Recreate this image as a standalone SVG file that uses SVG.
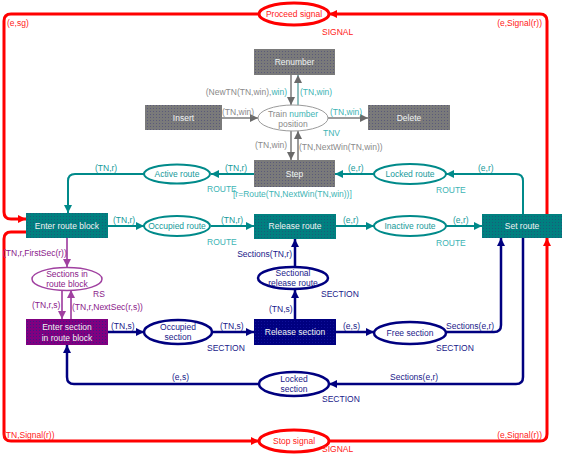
<svg xmlns="http://www.w3.org/2000/svg" width="564" height="454" viewBox="0 0 564 454">
<defs>
<style>
text{font-family:"Liberation Sans",Arial,sans-serif;font-size:8.5px}
.bt{fill:#f0f4f4;text-anchor:middle}
.c{text-anchor:middle}
.e{text-anchor:end}
.red{fill:#ff2020}.teal{fill:#159a9a}.teal2{fill:#40b4b4}.gray{fill:#8a8a8a}.pur{fill:#8a208a}.navy{fill:#1a1a8a}
.lr{fill:none;stroke:#ff0000;stroke-width:3}
.lt{fill:none;stroke:#008a8a;stroke-width:2}
.lg{fill:none;stroke:#7a7a7a;stroke-width:1.5}
.lp{fill:none;stroke:#b060b0;stroke-width:2}
.ln{fill:none;stroke:#000080;stroke-width:2.5}
.er{fill:#fff;stroke:#ff0000;stroke-width:3}
.et{fill:#fff;stroke:#008a8a;stroke-width:2}
.eg{fill:#fff;stroke:#9a9a9a;stroke-width:1}
.ep{fill:#fff;stroke:#a040a0;stroke-width:1.5}
.en{fill:#fff;stroke:#000080;stroke-width:2.5}
</style>
<pattern id="pt" width="3" height="3" patternUnits="userSpaceOnUse"><rect width="3" height="3" fill="#008080"/><rect width="1" height="1" fill="#1a5a7a"/></pattern>
<pattern id="pg" width="3" height="3" patternUnits="userSpaceOnUse"><rect width="3" height="3" fill="#7a7a7a"/><rect width="1" height="1" fill="#5a5a7a"/></pattern>
<pattern id="pp" width="3" height="3" patternUnits="userSpaceOnUse"><rect width="3" height="3" fill="#800080"/><rect width="1" height="1" fill="#3a1a8a"/></pattern>
<pattern id="pn" width="3" height="3" patternUnits="userSpaceOnUse"><rect width="3" height="3" fill="#000080"/><rect width="1" height="1" fill="#10109a"/></pattern>
<marker id="ar" viewBox="0 0 10 10" refX="10" refY="5" markerWidth="9" markerHeight="8" markerUnits="userSpaceOnUse" orient="auto"><path d="M0,0L10,5L0,10z" fill="#ff0000"/></marker>
<marker id="at" viewBox="0 0 10 10" refX="10" refY="5" markerWidth="9" markerHeight="8" markerUnits="userSpaceOnUse" orient="auto"><path d="M0,0L10,5L0,10z" fill="#008a8a"/></marker>
<marker id="ag" viewBox="0 0 10 10" refX="10" refY="5" markerWidth="9" markerHeight="8" markerUnits="userSpaceOnUse" orient="auto"><path d="M0,0L10,5L0,10z" fill="#6a6a6a"/></marker>
<marker id="ap" viewBox="0 0 10 10" refX="10" refY="5" markerWidth="9" markerHeight="8" markerUnits="userSpaceOnUse" orient="auto"><path d="M0,0L10,5L0,10z" fill="#a040a0"/></marker>
<marker id="an" viewBox="0 0 10 10" refX="10" refY="5" markerWidth="9" markerHeight="8" markerUnits="userSpaceOnUse" orient="auto"><path d="M0,0L10,5L0,10z" fill="#000080"/></marker>
</defs>
<rect width="564" height="454" fill="#fff"/>

<g id="connectors">
<path class="lg" d="M291,75L291,105" marker-end="url(#ag)"/>
<path class="lg" d="M298,105L298,75" style="stroke:#6aa8a8" marker-end="url(#ag)"/>
<path class="lg" d="M222,118L258,118" marker-end="url(#ag)"/>
<path class="lg" d="M328,118L368,118" marker-end="url(#ag)"/>
<path class="lg" d="M291,131L291,160" marker-end="url(#ag)"/>
<path class="lg" d="M298,160L298,131" marker-end="url(#ag)"/>

<path class="lt" d="M254,174L211,174" marker-end="url(#at)"/>
<path class="lt" d="M144,174L75,174Q68,174 68,181L68,213" marker-end="url(#at)"/>
<path class="lt" d="M335,174L374,174" transform="rotate(180 354.5 174)" marker-end="url(#at)"/>
<path class="lt" d="M523,214L523,181Q523,174 516,174L446,174" marker-end="url(#at)"/>
<path class="lt" d="M108,226L144,226" marker-end="url(#at)"/>
<path class="lt" d="M211,226L254,226" marker-end="url(#at)"/>
<path class="lt" d="M336,226L374,226" marker-end="url(#at)"/>
<path class="lt" d="M446,226L482,226" marker-end="url(#at)"/>

<path class="lr" d="M547,214L547,21Q547,14 540,14L329,14" marker-end="url(#ar)"/>
<path class="lr" d="M259,14L11,14Q4,14 4,21L4,212Q4,219 11,219L26,219" marker-end="url(#ar)"/>
<path class="lr" d="M26,232L11,232Q4,232 4,239L4,434Q4,441 11,441L259,441" marker-end="url(#ar)"/>
<path class="lr" d="M329,441L540,441Q547,441 547,434L547,238" marker-end="url(#ar)"/>

<path class="lp" d="M67,238L67,267" marker-end="url(#ap)"/>
<path class="lp" d="M62,290L62,319" marker-end="url(#ap)"/>
<path class="lp" d="M71,319L71,290" marker-end="url(#ap)"/>

<path class="ln" d="M108,332L144,332" marker-end="url(#an)"/>
<path class="ln" d="M212,332L254,332" marker-end="url(#an)"/>
<path class="ln" d="M295,319L295,290" marker-end="url(#an)"/>
<path class="ln" d="M295,267L295,239" marker-end="url(#an)"/>
<path class="ln" d="M336,332L374,332" marker-end="url(#an)"/>
<path class="ln" d="M446,332L494,332Q501,332 501,325L501,238" marker-end="url(#an)"/>
<path class="ln" d="M523,238L523,377Q523,384 516,384L329,384" marker-end="url(#an)"/>
<path class="ln" d="M259,384L74,384Q67,384 67,377L67,345" marker-end="url(#an)"/>
</g>

<g id="labels">
<text class="red" x="7" y="26">(e,sg)</text>
<text class="red e" x="542" y="26">(e,Signal(r))</text>
<text class="red" x="3" y="438">(TN,Signal(r))</text>
<text class="red e" x="542" y="438">(e,Signal(r))</text>

<text class="gray e" x="287" y="95">(NewTN(TN,win),<tspan class="teal2">win)</tspan></text>
<text class="teal2" x="300" y="95">(TN,win)</text>
<text class="gray" x="222" y="115">(TN,win)</text>
<text class="teal2" x="330" y="115">(TN,win)</text>
<text class="gray" x="255" y="148">(TN,win)</text>
<text class="gray" x="299" y="150">(TN,NextWin(TN,win))</text>
<text class="teal2" x="323" y="136">TNV</text>

<text class="teal" x="225" y="171">(TN,r)</text>
<text class="teal" x="95" y="171">(TN,r)</text>
<text class="teal" x="348" y="171">(e,r)</text>
<text class="teal" x="478" y="171">(e,r)</text>
<text class="teal2" x="207" y="192">ROUTE</text>
<text class="teal2" x="233" y="197">[r=Route(TN,NextWin(TN,win))]</text>
<text class="teal2" x="436" y="193">ROUTE</text>
<text class="teal" x="113" y="223">(TN,r)</text>
<text class="teal" x="221" y="223">(TN,r)</text>
<text class="teal" x="343" y="223">(e,r)</text>
<text class="teal" x="453" y="223">(e,r)</text>
<text class="teal2" x="207" y="245">ROUTE</text>
<text class="teal2" x="436" y="246">ROUTE</text>

<text class="pur" x="3" y="256">(TN,r,FirstSec(r))</text>
<text class="pur" x="93" y="297">RS</text>
<text class="pur" x="32" y="308">(TN,r,s)</text>
<text class="pur" x="72" y="310">(TN,r,NextSec(r,s))</text>

<text class="navy e" x="292" y="257">Sections(TN,r)</text>
<text class="navy" x="321" y="297">SECTION</text>
<text class="navy" x="269" y="312">(TN,s)</text>
<text class="navy" x="111" y="329">(TN,s)</text>
<text class="navy" x="220" y="329">(TN,s)</text>
<text class="navy" x="343" y="329">(e,s)</text>
<text class="navy" x="446" y="329">Sections(e,r)</text>
<text class="navy" x="207" y="351">SECTION</text>
<text class="navy" x="436" y="351">SECTION</text>
<text class="navy" x="172" y="380">(e,s)</text>
<text class="navy" x="390" y="380">Sections(e,r)</text>
<text class="navy" x="322" y="402">SECTION</text>
</g>

<g id="proceed-signal"><ellipse class="er" cx="294" cy="14" rx="35" ry="11"/><text class="red c" x="294" y="17">Proceed signal</text><text class="red" x="322" y="35">SIGNAL</text></g>
<g id="stop-signal"><ellipse class="er" cx="294" cy="441" rx="35" ry="11"/><text class="red c" x="294" y="444">Stop signal</text><text class="red" x="322" y="452">SIGNAL</text></g>

<g id="renumber"><rect x="254" y="49" width="81" height="26" fill="url(#pg)"/><text class="bt" x="294.5" y="65">Renumber</text></g>
<g id="insert"><rect x="145" y="105" width="77" height="25" fill="url(#pg)"/><text class="bt" x="183.5" y="121">Insert</text></g>
<g id="delete"><rect x="368" y="105" width="82" height="25" fill="url(#pg)"/><text class="bt" x="409" y="121">Delete</text></g>
<g id="train-number-position"><ellipse class="eg" cx="293" cy="118" rx="35" ry="13"/><text class="gray c" x="293" y="117">Train <tspan class="teal2">number</tspan></text><text class="gray c" x="293" y="127">position</text></g>
<g id="step"><rect x="254" y="160" width="81" height="27" fill="url(#pg)"/><text class="bt" x="294.5" y="177">Step</text></g>

<g id="active-route"><ellipse class="et" cx="177" cy="174" rx="33" ry="9.5"/><text class="teal c" x="177" y="177">Active route</text></g>
<g id="locked-route"><ellipse class="et" cx="410" cy="174" rx="36" ry="10"/><text class="teal c" x="410" y="177">Locked route</text></g>
<g id="enter-route-block"><rect x="26" y="213" width="82" height="25" fill="url(#pt)"/><text class="bt" x="67" y="229">Enter route block</text></g>
<g id="occupied-route"><ellipse class="et" cx="177" cy="226" rx="33" ry="10"/><text class="teal c" x="177" y="229">Occupied route</text></g>
<g id="release-route"><rect x="254" y="214" width="82" height="25" fill="url(#pt)"/><text class="bt" x="295" y="229">Release route</text></g>
<g id="inactive-route"><ellipse class="et" cx="410" cy="226" rx="36" ry="10"/><text class="teal c" x="410" y="229">Inactive route</text></g>
<g id="set-route"><rect x="482" y="214" width="80" height="24" fill="url(#pt)"/><text class="bt" x="522" y="229">Set route</text></g>

<g id="sections-in-route-block"><ellipse class="ep" cx="67" cy="279" rx="35" ry="11.5"/><text class="pur c" x="67" y="277">Sections in</text><text class="pur c" x="67" y="287">route block</text></g>
<g id="enter-section-in-route-block"><rect x="26" y="319" width="82" height="26" fill="url(#pp)"/><text class="bt" x="67" y="330">Enter section</text><text class="bt" x="67" y="341">in route block</text></g>

<g id="sectional-release-route"><ellipse class="en" cx="293" cy="278" rx="35" ry="11"/><text class="navy c" x="293" y="276">Sectional</text><text class="navy c" x="293" y="286">release route</text></g>
<g id="occupied-section"><ellipse class="en" cx="178" cy="332" rx="34" ry="12"/><text class="navy c" x="178" y="330">Occupied</text><text class="navy c" x="178" y="340">section</text></g>
<g id="release-section"><rect x="254" y="319" width="82" height="26" fill="url(#pn)"/><text class="bt" x="295" y="335">Release section</text></g>
<g id="free-section"><ellipse class="en" cx="410" cy="333" rx="36" ry="11"/><text class="navy c" x="410" y="336">Free section</text></g>
<g id="locked-section"><ellipse class="en" cx="294" cy="384" rx="35" ry="12"/><text class="navy c" x="294" y="382">Locked</text><text class="navy c" x="294" y="392">section</text></g>
</svg>
